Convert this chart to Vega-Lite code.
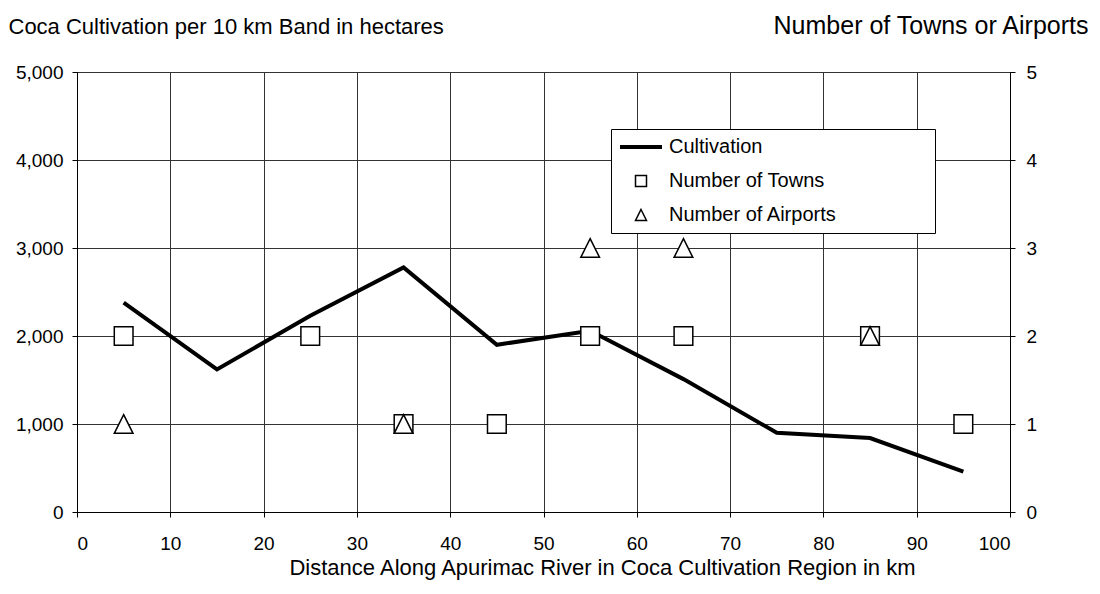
{
  "$schema": "https://vega.github.io/schema/vega-lite/v6.json",
  "width": 933,
  "height": 440,
  "autosize": "none",
  "padding": {"left": 77, "top": 72, "right": 90, "bottom": 82},
  "background": "white",
  "config": {
    "font": "Liberation Sans",
    "view": {"stroke": "black", "strokeWidth": 1},
    "axis": {
      "labelFont": "Liberation Sans",
      "titleFont": "Liberation Sans",
      "labelColor": "black",
      "titleColor": "black",
      "tickColor": "black",
      "domainColor": "black",
      "gridColor": "#333333",
      "gridWidth": 1,
      "gridOpacity": 1,
      "tickSize": 5,
      "labelFontSize": 19,
      "titleFontWeight": "normal"
    },
    "legend": {"labelFont": "Liberation Sans", "labelColor": "black"}
  },
  "datasets": {
    "cultivation": [
      {"km": 5, "hectares": 2380},
      {"km": 15, "hectares": 1620},
      {"km": 25, "hectares": 2230},
      {"km": 35, "hectares": 2780},
      {"km": 45, "hectares": 1900},
      {"km": 55, "hectares": 2060},
      {"km": 65, "hectares": 1510},
      {"km": 75, "hectares": 900},
      {"km": 85, "hectares": 840},
      {"km": 95, "hectares": 460}
    ],
    "facilities": [
      {"km": 5, "count": 2, "series": "Number of Towns"},
      {"km": 25, "count": 2, "series": "Number of Towns"},
      {"km": 35, "count": 1, "series": "Number of Towns"},
      {"km": 45, "count": 1, "series": "Number of Towns"},
      {"km": 55, "count": 2, "series": "Number of Towns"},
      {"km": 65, "count": 2, "series": "Number of Towns"},
      {"km": 85, "count": 2, "series": "Number of Towns"},
      {"km": 95, "count": 1, "series": "Number of Towns"},
      {"km": 5, "count": 1, "series": "Number of Airports"},
      {"km": 35, "count": 1, "series": "Number of Airports"},
      {"km": 55, "count": 3, "series": "Number of Airports"},
      {"km": 65, "count": 3, "series": "Number of Airports"},
      {"km": 85, "count": 2, "series": "Number of Airports"}
    ]
  },
  "layer": [
    {
      "data": {"name": "cultivation"},
      "mark": {"type": "line", "color": "black", "strokeWidth": 4},
      "encoding": {
        "x": {
          "field": "km",
          "type": "quantitative",
          "scale": {"domain": [0, 100], "nice": false, "zero": false},
          "axis": {
            "values": [0, 10, 20, 30, 40, 50, 60, 70, 80, 90, 100],
            "grid": true,
            "labelPadding": 17,
            "title": "Distance Along Apurimac River in Coca Cultivation Region in km",
            "titleFontSize": 22,
            "titleX": 525,
            "titleY": 62,
            "titleAnchor": null,
            "titleAlign": "center",
            "titleBaseline": "alphabetic"
          }
        },
        "y": {
          "field": "hectares",
          "type": "quantitative",
          "scale": {"domain": [0, 5000], "nice": false},
          "axis": {
            "values": [0, 1000, 2000, 3000, 4000, 5000],
            "format": ",d",
            "grid": true,
            "labelPadding": 9,
            "title": "Coca Cultivation per 10 km Band in hectares",
            "titleFontSize": 22,
            "titleAngle": 0,
            "titleAlign": "left",
            "titleBaseline": "alphabetic",
            "titleX": -69,
            "titleY": -39
          }
        }
      }
    },
    {
      "data": {"name": "facilities"},
      "mark": {"type": "point", "fill": "white", "stroke": "black", "strokeWidth": 1.5, "opacity": 1, "size": 350},
      "encoding": {
        "x": {"field": "km", "type": "quantitative"},
        "y": {
          "field": "count",
          "type": "quantitative",
          "scale": {"domain": [0, 5], "nice": false},
          "axis": {
            "orient": "right",
            "values": [0, 1, 2, 3, 4, 5],
            "grid": false,
            "labelPadding": 11,
            "title": "Number of Towns or Airports",
            "titleFontSize": 25,
            "titleAngle": 0,
            "titleAlign": "right",
            "titleBaseline": "alphabetic",
            "titleX": 78,
            "titleY": -39
          }
        },
        "shape": {
          "field": "series",
          "type": "nominal",
          "scale": {
            "domain": ["Cultivation", "Number of Towns", "Number of Airports"],
            "range": ["M-3.82,-0.23H3.82M-3.82,0H3.82M-3.82,0.23H3.82", "M-1,-1H1V1H-1Z", "M0,-1L1,1L-1,1Z"]
          },
          "legend": {
            "title": null,
            "orient": "none",
            "legendX": 534,
            "legendY": 57,
            "strokeColor": "black",
            "fillColor": "white",
            "padding": 8,
            "symbolSize": 121,
            "symbolStrokeWidth": 1.5,
            "symbolOffset": 12,
            "labelOffset": 18,
            "labelFontSize": 20,
            "labelLimit": 500,
            "rowPadding": 14,
            "labelExpr": "datum.label + '\u2800\u2800\u2800\u2800\u2800\u2800'",
            "encode": {
              "symbols": {
                "update": {
                  "fill": {"value": "white"},
                  "stroke": {"value": "black"},
                  "strokeWidth": {"value": 1.5},
                  "opacity": {"value": 1},
                  "fillOpacity": {"value": 1},
                  "strokeOpacity": {"value": 1}
                }
              }
            }
          }
        }
      }
    }
  ],
  "resolve": {"scale": {"y": "independent"}}
}
